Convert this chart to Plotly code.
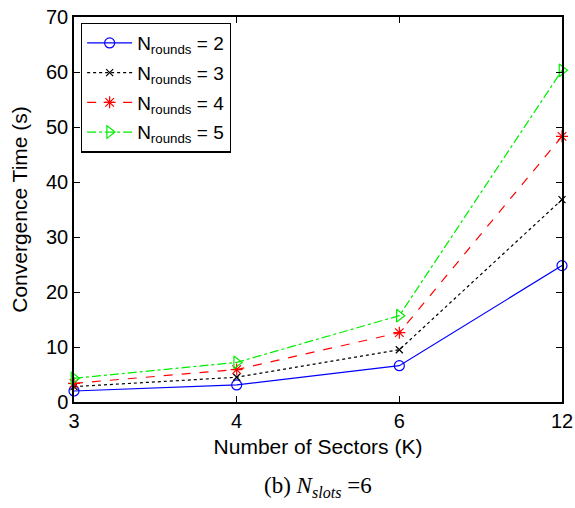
import plotly.graph_objects as go

sectors = ["3", "4", "6", "12"]
n2 = [2.0, 3.1, 6.6, 24.8]
n3 = [2.8, 4.5, 9.5, 36.8]
n4 = [3.4, 5.9, 12.6, 48.3]
n5 = [4.3, 7.2, 15.7, 60.3]
names = ["N<sub>rounds</sub> = 2", "N<sub>rounds</sub> = 3", "N<sub>rounds</sub> = 4", "N<sub>rounds</sub> = 5"]

styles = [
    (n2, "#0000ff", "solid", "circle-open", 10),
    (n3, "#000000", "dot", "x-thin-open", 7),
    (n4, "#ff0000", "dash", "asterisk-open", 10),
    (n5, "#00ee00", "dashdot", "triangle-right-open", 11),
]

fig = go.Figure()
for i, ((vals, col, dash, sym, sz), nm) in enumerate(zip(styles, names)):
    fig.add_trace(go.Scatter(
        x=sectors, y=vals, name=nm, mode="lines+markers", legendgroup=f"g{i}",
        line=dict(color=col, dash=dash, width=1.2),
        marker=dict(symbol=sym, size=sz, color=col, line=dict(color=col, width=1.2)),
        cliponaxis=False,
    ))

fig.update_layout(
    width=575, height=508,
    margin=dict(l=74, r=13, t=17, b=106),
    paper_bgcolor="white", plot_bgcolor="white",
    font=dict(family="Liberation Sans, Arial", size=20, color="black"),
    showlegend=True,
    legend=dict(x=0.014, y=0.985, xanchor="left", yanchor="top",
                bordercolor="black", borderwidth=1.3, bgcolor="white",
                font=dict(size=19), tracegroupgap=2, itemwidth=45),
    xaxis=dict(type="category", range=[0, 3], showline=True, linecolor="black", linewidth=1.5,
               mirror="ticks", ticks="inside", ticklen=6, tickcolor="black", showgrid=False,
               zeroline=False, automargin=False, tickfont=dict(size=20),
               title=dict(text="Number of Sectors (K)", font=dict(size=21), standoff=9)),
    yaxis=dict(range=[0, 70], dtick=10, showline=True, linecolor="black", linewidth=1.5,
               mirror="ticks", ticks="inside", ticklen=6, tickcolor="black", showgrid=False,
               zeroline=False, automargin=False, tickfont=dict(size=20),
               title=dict(text="Convergence Time (s)", font=dict(size=21), standoff=13)),
)

fig.add_annotation(
    text="(b) <i>N</i><sub><i>slots</i></sub> =6",
    xref="paper", yref="paper", x=0.5, y=-0.178, yanchor="top", showarrow=False,
    font=dict(family="Liberation Serif, Times New Roman", size=23, color="black"),
)

fig.write_html("out.html")
